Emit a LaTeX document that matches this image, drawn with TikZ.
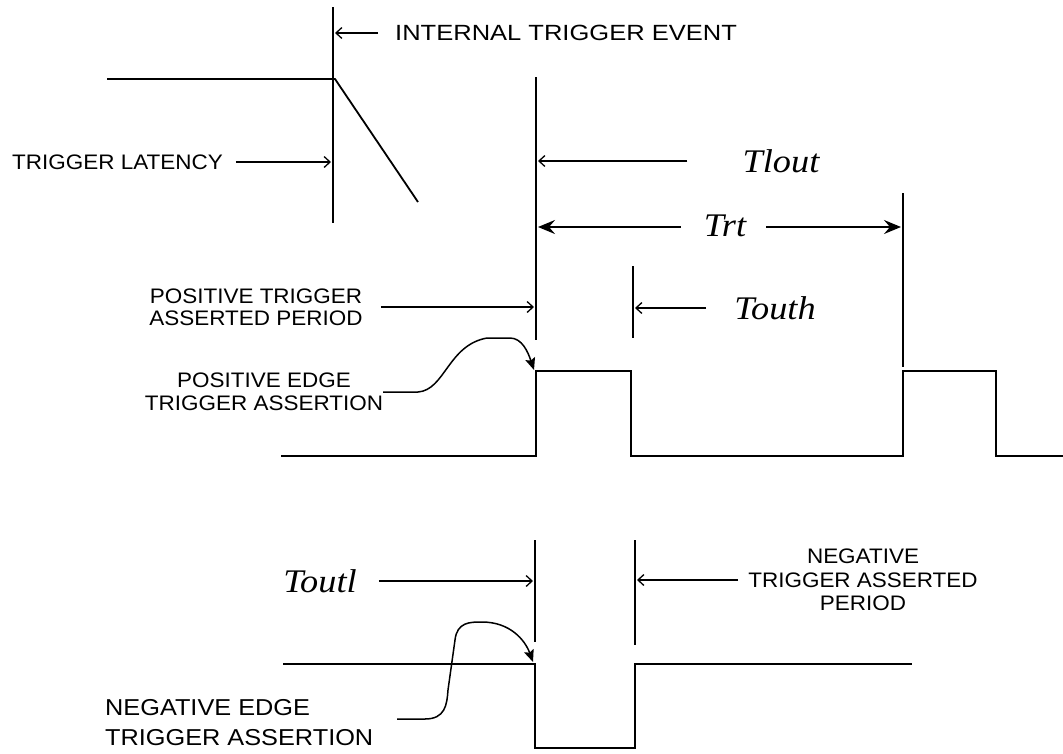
\documentclass[tikz,border=0pt]{standalone}
\usepackage{fontspec}
\setmainfont{Liberation Sans}
\newfontfamily\lf[FakeStretch=1.07]{Liberation Sans}
\newfontfamily\lfb[FakeStretch=1.16]{Liberation Sans}
\newfontfamily\lfc[FakeStretch=1.1]{Liberation Sans}
\newfontfamily\tf[FakeStretch=1.1]{Liberation Serif}
\usetikzlibrary{arrows.meta}
\tikzset{
  wire/.style={line width=1.8pt, line cap=butt, line join=miter},
  sarr/.style={wire, -{Straight Barb[length=6pt,width=11pt,line width=1.3pt]}},
  barr/.style={wire, -{Stealth[length=17pt,width=14pt,inset=6pt]}},
  carr/.style={line width=1.5pt, -{Stealth[length=12pt,width=10pt,inset=2pt]}},
  lbl/.style={inner sep=0pt, align=center, font=\lf\fontsize{21}{22}\selectfont},
  tlab/.style={inner sep=0pt, font=\tf\itshape\fontsize{33}{33}\selectfont},
}
\begin{document}
\begin{tikzpicture}[x=1pt,y=-1pt]
\useasboundingbox (0,0) rectangle (1063,753);
\fill[white] (0,0) rectangle (1063,753);

% ---------- text nodes ----------
\node[lbl, font=\lfb\fontsize{22}{22}\selectfont, anchor=west] (ite) at (395,33) {INTERNAL TRIGGER EVENT};
\node[lbl, anchor=west] (lat) at (12,162) {TRIGGER LATENCY};
\node[lbl] (pta) at (256,307) {POSITIVE TRIGGER\\ASSERTED PERIOD};
\node[lbl, font=\lf\fontsize{21}{23}\selectfont] (pea) at (264,392) {POSITIVE EDGE\\TRIGGER ASSERTION};
\node[lbl, font=\lf\fontsize{21}{23.5}\selectfont] (nta) at (863,580) {NEGATIVE\\TRIGGER ASSERTED\\PERIOD};
\node[lbl, font=\lfc\fontsize{23}{30}\selectfont, align=left, anchor=west] (nea) at (105,723) {NEGATIVE EDGE\\TRIGGER ASSERTION};
\node[tlab] (tlout) at (781,161) {Tlout};
\node[tlab] (trt) at (725,226) {Trt};
\node[tlab] (touth) at (775,308) {Touth};
\node[tlab] (toutl) at (320,581) {Toutl};

% ---------- coordinates ----------
\coordinate (iteTop) at (333,7);
\coordinate (iteBot) at (333,223);
\coordinate (hiStart) at (107,79);
\coordinate (hiEnd) at (335,79);
\coordinate (rampEnd) at (418,202);
\coordinate (m1Top) at (536,77);
\coordinate (m1Bot) at (536,340);
\coordinate (m2Top) at (633,266);
\coordinate (m2Bot) at (633,338);
\coordinate (m3Top) at (903,193);
\coordinate (m3Bot) at (903,367);
\coordinate (n1Top) at (535,540);
\coordinate (n1Bot) at (535,642);
\coordinate (n2Top) at (635,540);
\coordinate (n2Bot) at (635,645);
\coordinate (pStart) at (281,456);
\coordinate (pRise) at (536,371);
\coordinate (pFall) at (631,456);
\coordinate (pRise2) at (903,371);
\coordinate (pFall2) at (996,456);
\coordinate (pEnd) at (1063,456);
\coordinate (nStart) at (283,664);
\coordinate (nFall) at (535,748);
\coordinate (nRise) at (635,664);
\coordinate (nEnd) at (912,664);
\coordinate (iteT) at (335,33);
\coordinate (latT) at (331,162);
\coordinate (tloutT) at (538,161);
\coordinate (trtL) at (538,227);
\coordinate (trtR) at (901,227);
\coordinate (touthT) at (635,308);
\coordinate (ptaT) at (534,307);
\coordinate (toutlT) at (533,581);
\coordinate (ntaT) at (637,580);
\coordinate (peaT) at (534,370);
\coordinate (neaS) at (397,719);
\coordinate (neaT) at (533,662);

% ---------- signal lines ----------
\draw[wire] (iteTop) -- (iteBot);
\draw[wire] (hiStart) -- (hiEnd) -- (rampEnd);
\draw[wire] (m1Top) -- (m1Bot);
\draw[wire] (m2Top) -- (m2Bot);
\draw[wire] (m3Top) -- (m3Bot);
\draw[wire] (n1Top) -- (n1Bot);
\draw[wire] (n2Top) -- (n2Bot);
\draw[wire] (pStart) -| (pRise) -| (pFall) -| (pRise2) -| (pFall2) -- (pEnd);
\draw[wire] (nStart) -| (nFall) -| (nRise) -- (nEnd);

% ---------- arrows ----------
\draw[sarr, shorten <=17pt] (ite.west) -- (iteT);
\draw[sarr, shorten <=13pt] (lat.east) -- (latT);
\draw[sarr, shorten <=55pt] (tlout.west) -- (tloutT);
\draw[barr, shorten <=23pt] (trt.west |- trtL) -- (trtL);
\draw[barr, shorten <=20pt] (trt.east |- trtR) -- (trtR);
\draw[sarr, shorten <=28pt] (touth.west) -- (touthT);
\draw[sarr, shorten <=18pt] (pta.east) -- (ptaT);
\draw[sarr, shorten <=22pt] (toutl.east) -- (toutlT);
\draw[sarr, shorten <=10pt] (nta.west) -- (ntaT);

% ---------- curved pointers ----------
\draw[carr] (pea.east) -- (418,392)
  .. controls (445,390) and (448,345) .. (487,338)
  -- (510,338) .. controls (522,338) and (528,352) .. (peaT);
\draw[carr] (neaS) -- (425,719)
  .. controls (445,719) and (447,705) .. (448,690)
  -- (455,640) .. controls (457,622) and (470,622) .. (482,622)
  .. controls (510,622) and (525,640) .. (neaT);
\end{tikzpicture}
\end{document}
